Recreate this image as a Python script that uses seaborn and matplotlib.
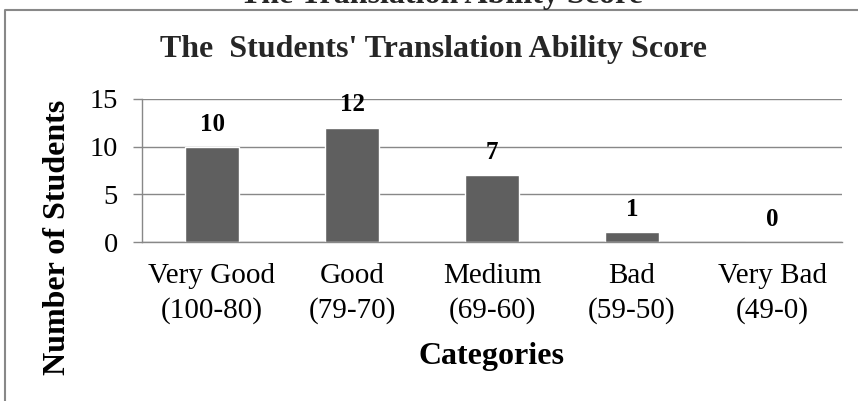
import matplotlib.pyplot as plt
from matplotlib.lines import Line2D
import seaborn as sns


categories = ["Very Good\n(100-80)", "Good\n(79-70)", "Medium\n(69-60)", "Bad\n(59-50)", "Very Bad\n(49-0)"]
students = [10, 12, 7, 1, 0]
y_ticks = [0, 5, 10, 15]

sns.set_theme(style="white")
plt.rcParams["font.family"] = ["Liberation Serif", "DejaVu Serif"]

grey = "#888888"
bar_color = "#5f5f5f"

fig = plt.figure(figsize=(8.58, 4.01), dpi=100)
ax = fig.add_axes([142 / 858, 1 - 242 / 401, 700 / 858, 143 / 401])

sns.barplot(x=categories, y=students, color=bar_color, saturation=1, width=0.39, ax=ax)
ax.bar_label(ax.containers[0], padding=8, fontsize=18, fontweight="bold", color="black")

ax.set_ylim(0, 15)
ax.set_yticks(y_ticks)
ax.yaxis.grid(True, color=grey, linewidth=1.0)
ax.set_axisbelow(True)
for side in ["top", "right"]:
    ax.spines[side].set_visible(False)
for side in ["left", "bottom"]:
    ax.spines[side].set_color(grey)
    ax.spines[side].set_linewidth(1.0)

ax.tick_params(axis="y", left=True, length=6.5, width=1.0, color=grey, pad=11, labelsize=20.5)
ax.tick_params(axis="x", bottom=False, length=0, pad=15, labelsize=21)
for lab in ax.get_yticklabels():
    lab.set_color("black")
for lab in ax.get_xticklabels():
    lab.set_color("black")
    lab.set_linespacing(1.4)

ax.set_xlabel("Categories", fontsize=23, fontweight="bold", color="black", va="top")
ax.xaxis.set_label_coords(0.5, -0.70)
ax.set_ylabel("Number of Students", fontsize=23, fontweight="bold", color="black")
ax.yaxis.set_label_coords(-0.10, 0.035)

fig.text(0.505, 1 - 57 / 401, "The  Students' Translation Ability Score",
         ha="center", va="baseline", fontsize=23, fontweight="bold")
# heading of the page above the chart, cut off by the crop
fig.text(0.514, 1 - 3 / 401, "The Translation Ability Score",
         ha="center", va="baseline", fontsize=23, fontweight="bold")

# chart frame, running past the right and bottom edges
top = 1 - 10 / 401
left = 5 / 858
fig.add_artist(Line2D([1.0, left, left], [top, top, 0.0], transform=fig.transFigure,
                      color=grey, linewidth=1.5))

fig.savefig("out.png", dpi=100)
